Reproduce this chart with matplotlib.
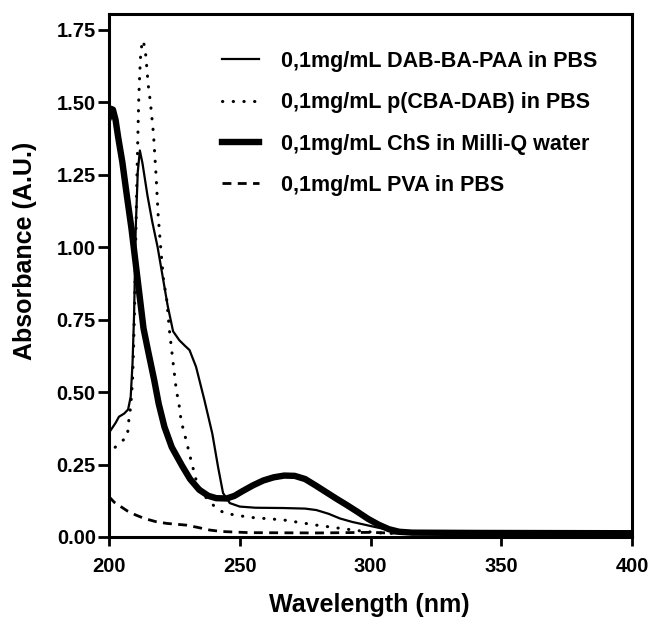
import matplotlib
matplotlib.use('Agg')
import matplotlib.pyplot as plt

# UV-Vis spectra, values
paa_nm = [200, 201.5, 202.6, 203.8, 205.8, 207.3, 208.3, 209, 209.6, 210.2, 211, 211.8,
          212.8, 214.7, 216.5, 218.6, 220.5, 222.4, 224.5, 226.9, 228.8, 230.8, 233.3,
          236.5, 239.5, 241.7, 243.6, 246.2, 250, 256, 266.6, 275, 279.3, 284, 288.3,
          293, 298.5, 303, 308.7, 314, 330, 400]
paa_abs = [0.36, 0.38, 0.395, 0.415, 0.426, 0.44, 0.484, 0.60, 0.77, 1.06, 1.26, 1.334,
           1.29, 1.179, 1.09, 1.0, 0.90, 0.80, 0.71, 0.679, 0.662, 0.645, 0.587,
           0.472, 0.357, 0.242, 0.152, 0.117, 0.105, 0.101, 0.100, 0.098, 0.093, 0.08, 0.064,
           0.052, 0.041, 0.032, 0.022, 0.016, 0.015, 0.013]

cba_nm = [200, 201.3, 203.8, 205.5, 207, 207.7, 208.3, 209, 209.4, 209.8, 210.3, 210.7,
          211, 211.4, 212, 212.7, 213.4, 214.1, 215, 215.8, 217, 218, 218.8, 219.8, 220.8,
          222.1, 223.1, 224.4, 225.7, 226.9, 227.6, 229.5, 231.5, 233.3, 235.5, 237.8, 241,
          244.2, 253.7, 266.6, 279.3, 288.3, 297, 305, 320, 400]
cba_abs = [0.28, 0.30, 0.323, 0.335, 0.346, 0.415, 0.449, 0.54, 0.656, 0.80, 1.06, 1.25,
           1.37, 1.52, 1.65, 1.714, 1.70, 1.66, 1.56, 1.503, 1.392, 1.248, 1.11, 0.995, 0.892,
           0.817, 0.714, 0.61, 0.51, 0.45, 0.40, 0.334, 0.26, 0.197, 0.155, 0.128, 0.10,
           0.082, 0.068, 0.059, 0.041, 0.03, 0.02, 0.013, 0.011, 0.01]

chs_nm = [200, 200.6, 201.5, 202.5, 203.5, 205.1, 206.8, 208.6, 210.9, 213.2, 215, 217.3,
          219, 221.2, 224, 228, 231, 234.5, 238, 241, 245, 248, 251, 255, 259, 263, 267,
          271, 275, 279, 283, 287, 291, 295, 299, 303, 307, 311, 316, 340, 400]
chs_abs = [1.45, 1.478, 1.475, 1.44, 1.38, 1.294, 1.18, 1.064, 0.892, 0.72, 0.64, 0.541,
           0.46, 0.38, 0.31, 0.245, 0.20, 0.163, 0.142, 0.134, 0.133, 0.142, 0.158, 0.178,
           0.195, 0.206, 0.212, 0.211, 0.200, 0.178, 0.155, 0.132, 0.11, 0.087, 0.063,
           0.043, 0.027, 0.018, 0.015, 0.014, 0.013]

pva_nm = [200, 202, 204.5, 207, 210.2, 213.5, 217.9, 222, 229.5, 234, 238.5, 243, 253.7,
          280, 300, 310, 400]
pva_abs = [0.139, 0.12, 0.105, 0.09, 0.076, 0.064, 0.053, 0.047, 0.041, 0.033, 0.024,
           0.019, 0.015, 0.014, 0.016, 0.013, 0.012]

labels = ['0,1mg/mL DAB-BA-PAA in PBS', '0,1mg/mL p(CBA-DAB) in PBS',
          '0,1mg/mL ChS in Milli-Q water', '0,1mg/mL PVA in PBS']
x_ticks = [200, 250, 300, 350, 400]
y_ticks = [0.0, 0.25, 0.5, 0.75, 1.0, 1.25, 1.5, 1.75]


def main():
    plt.rcParams['font.family'] = ['Liberation Sans', 'DejaVu Sans']
    plt.rcParams['font.weight'] = 'bold'

    fig = plt.figure(figsize=(6.5, 6.21), dpi=100)
    ax = fig.add_axes([109 / 650, 84 / 621, 523 / 650, 523 / 621])

    ax.plot(paa_nm, paa_abs, color='black', lw=1.6, label=labels[0])
    ax.plot(cba_nm, cba_abs, color='black', lw=2.2, linestyle=(0, (0.1, 3.4)),
            dash_capstyle='round', label=labels[1])
    ax.plot(chs_nm, chs_abs, color='black', lw=4.6, solid_joinstyle='round', label=labels[2])
    ax.plot(pva_nm, pva_abs, color='black', lw=2.0, linestyle=(0, (3.2, 2.3)), label=labels[3])

    ax.set_xlim(200, 400)
    ax.set_ylim(0, 1.805)
    ax.set_xticks(x_ticks)
    ax.set_yticks(y_ticks)
    ax.set_xticklabels([str(t) for t in x_ticks])
    ax.set_yticklabels(['%.2f' % t for t in y_ticks])
    ax.tick_params(axis='both', direction='out', width=2, labelsize=14.5)
    ax.tick_params(axis='x', length=6.5, pad=8)
    ax.tick_params(axis='y', length=8, pad=1.5)
    for sp in ax.spines.values():
        sp.set_linewidth(2.2)

    ax.set_xlabel('Wavelength (nm)', fontsize=18, fontweight='bold')
    ax.set_ylabel('Absorbance (A.U.)', fontsize=18, fontweight='bold')
    ax.xaxis.set_label_coords(0.497, -0.107)
    ax.yaxis.set_label_coords(-0.138, 0.547)

    ax.legend(loc='upper left', bbox_to_anchor=(0.216, 0.93), frameon=False,
              fontsize=15.5, borderpad=0, borderaxespad=0, handlelength=1.7,
              handletextpad=1.02, labelspacing=0.95)

    fig.savefig('out.png', dpi=100)


if __name__ == '__main__':
    main()
